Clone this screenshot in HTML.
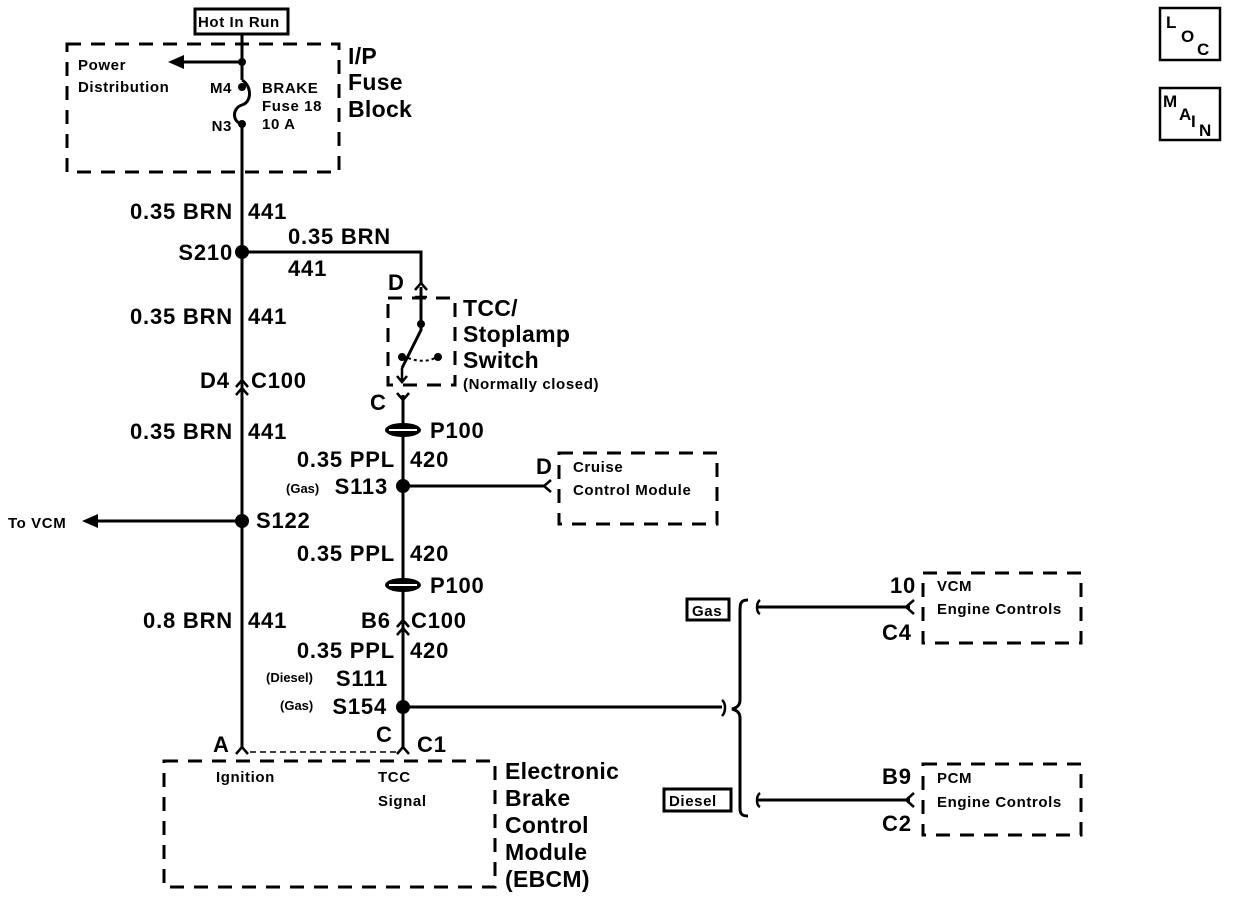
<!DOCTYPE html>
<html><head><style>
body{margin:0;background:#fff}
svg{display:block}
text{font-family:"Liberation Sans",Arial,sans-serif;fill:#000}
.b{font-size:22px;font-weight:bold;letter-spacing:0.8px}
.m{font-size:23px;font-weight:bold;letter-spacing:0.3px}
.s{font-size:15px;font-weight:bold;letter-spacing:0.6px}
.xs{font-size:13px;font-weight:bold}
.l{font-size:17px;font-weight:bold}
</style></head><body>
<svg width="1248" height="898" viewBox="0 0 1248 898" xmlns="http://www.w3.org/2000/svg">
<g fill="none" stroke="#000" stroke-width="3">
<rect x="67" y="44" width="272" height="128" stroke-dasharray="14,10"/>
<rect x="388" y="298" width="67" height="87" stroke-dasharray="14,10"/>
<rect x="559" y="453" width="158" height="71" stroke-dasharray="14,10"/>
<rect x="923" y="573" width="158" height="70" stroke-dasharray="14,10"/>
<rect x="923" y="764" width="158" height="71" stroke-dasharray="14,10"/>
<rect x="164" y="761" width="331" height="126" stroke-dasharray="14,10"/>
<rect x="195" y="9" width="93" height="25"/>
<rect x="687" y="599" width="42" height="21"/>
<rect x="664" y="789" width="67" height="22"/>
<rect x="1160" y="8" width="60" height="52" stroke-width="2.5"/>
<rect x="1160" y="88" width="60" height="52" stroke-width="2.5"/>
<path d="M242 35 V80"/>
<path d="M242 80 C252 86,252 102,242 105 C232 108,232 122,242 124"/>
<path d="M242 124 V748"/>
<path d="M242 62 H180"/>
<path d="M242 521 H95"/>
<path d="M242 252 H421 V283"/>
<path d="M421 287 V330 L402 368"/>
<path d="M403 395 V748"/>
<path d="M403 486 H545"/>
<path d="M403 707 H722"/>
<path d="M757 607 H910"/>
<path d="M757 800 H910"/>
<path d="M748 600 C740 600,740 604,740 612 V700 C740 706,736 708,732 709 C736 710,740 712,740 718 V808 C740 814,742 816,748 816"/>
<path d="M722 700 C726 703,726 712,722 716" stroke-width="2.5"/>
<path d="M760 600 C756 603,756 612,760 614" stroke-width="2.5"/>
<path d="M760 793 C756 796,756 805,760 807" stroke-width="2.5"/>
<path d="M914 600 L906 607 L914 614" stroke-width="2.5"/>
<path d="M914 793 L906 800 L914 807" stroke-width="2.5"/>
<path d="M551 480 L544 486 L551 492" stroke-width="2.5"/>
<path d="M236 387 L242 380 L248 387 M236 395 L242 388 L248 395" stroke-width="2.5"/>
<path d="M397 627 L403 620 L409 627 M397 635 L403 628 L409 635" stroke-width="2.5"/>
<path d="M415 290 L421 283 L427 290 M415 297 H427 M421 297 V304" stroke-width="2.5"/>
<path d="M397 393 L403 400 L409 393" stroke-width="2.5"/>
<path d="M236 754 L242 747 L248 754" stroke-width="2.5"/>
<path d="M397 754 L403 747 L409 754" stroke-width="2.5"/>
<path d="M402 368 V382 M397 376 L402 382 L407 376" stroke-width="2.5"/>
<path d="M408 358 Q425 364 437 357" stroke-width="2" stroke-dasharray="3,3"/>
<path d="M250 752 H396" stroke-width="1.5" stroke-dasharray="6,4"/>
</g>
<g fill="#000">
<polygon points="168,62 184,55 184,69"/>
<polygon points="82,521 98,514 98,528"/>
<circle cx="242" cy="62" r="4"/><circle cx="242" cy="87" r="4"/><circle cx="242" cy="124" r="4"/>
<circle cx="242" cy="252" r="7"/><circle cx="242" cy="521" r="7"/>
<circle cx="403" cy="486" r="7"/><circle cx="403" cy="707" r="7"/>
<circle cx="421" cy="324" r="4"/><circle cx="402" cy="357" r="4"/><circle cx="438" cy="357" r="4"/>
<ellipse cx="403" cy="430" rx="18" ry="7"/><ellipse cx="403" cy="585" rx="18" ry="7"/>
</g>
<g stroke="#fff" stroke-width="2"><path d="M389 430 H417 M389 585 H417"/></g>
<text class="s" x="198" y="27" letter-spacing="-0.3">Hot In Run</text>
<text class="s" x="78" y="70">Power</text>
<text class="s" x="78" y="92">Distribution</text>
<text class="s" x="232" y="93" text-anchor="end">M4</text>
<text class="s" x="232" y="131" text-anchor="end">N3</text>
<text class="s" x="262" y="93">BRAKE</text>
<text class="s" x="262" y="111">Fuse 18</text>
<text class="s" x="262" y="129">10 A</text>
<text class="m" x="348" y="64">I/P</text>
<text class="m" x="348" y="90">Fuse</text>
<text class="m" x="348" y="117">Block</text>
<text class="b" x="233" y="219" text-anchor="end">0.35 BRN</text><text class="b" x="248" y="219">441</text>
<text class="b" x="233" y="260" text-anchor="end">S210</text>
<text class="b" x="288" y="244">0.35 BRN</text><text class="b" x="288" y="276">441</text>
<text class="b" x="233" y="324" text-anchor="end">0.35 BRN</text><text class="b" x="248" y="324">441</text>
<text class="b" x="200" y="388">D4</text><text class="b" x="251" y="388">C100</text>
<text class="b" x="233" y="439" text-anchor="end">0.35 BRN</text><text class="b" x="248" y="439">441</text>
<text class="b" x="388" y="290">D</text>
<text class="m" x="463" y="316">TCC/</text>
<text class="m" x="463" y="342">Stoplamp</text>
<text class="m" x="463" y="368">Switch</text>
<text class="s" x="463" y="389" letter-spacing="0">(Normally closed)</text>
<text class="b" x="370" y="410">C</text>
<text class="b" x="430" y="438">P100</text>
<text class="b" x="395" y="467" text-anchor="end">0.35 PPL</text><text class="b" x="410" y="467">420</text>
<text class="xs" x="286" y="493">(Gas)</text><text class="b" x="388" y="494" text-anchor="end">S113</text>
<text class="b" x="536" y="474">D</text>
<text class="s" x="573" y="472">Cruise</text>
<text class="s" x="573" y="495">Control Module</text>
<text class="s" x="8" y="528">To VCM</text>
<text class="b" x="256" y="528">S122</text>
<text class="b" x="395" y="561" text-anchor="end">0.35 PPL</text><text class="b" x="410" y="561">420</text>
<text class="b" x="430" y="593">P100</text>
<text class="b" x="233" y="628" text-anchor="end">0.8 BRN</text><text class="b" x="248" y="628">441</text>
<text class="b" x="361" y="628">B6</text><text class="b" x="411" y="628">C100</text>
<text class="b" x="395" y="658" text-anchor="end">0.35 PPL</text><text class="b" x="410" y="658">420</text>
<text class="xs" x="266" y="682">(Diesel)</text><text class="b" x="388" y="686" text-anchor="end">S111</text>
<text class="xs" x="280" y="710">(Gas)</text><text class="b" x="387" y="714" text-anchor="end">S154</text>
<text class="b" x="213" y="752">A</text>
<text class="b" x="376" y="742">C</text><text class="b" x="417" y="752">C1</text>
<text class="s" x="216" y="782">Ignition</text>
<text class="s" x="378" y="782">TCC</text><text class="s" x="378" y="806">Signal</text>
<text class="m" x="505" y="779">Electronic</text>
<text class="m" x="505" y="806">Brake</text>
<text class="m" x="505" y="833">Control</text>
<text class="m" x="505" y="860">Module</text>
<text class="m" x="505" y="887">(EBCM)</text>
<text class="s" x="692" y="616" letter-spacing="0">Gas</text>
<text class="s" x="669" y="806" letter-spacing="0">Diesel</text>
<text class="b" x="890" y="593">10</text><text class="b" x="882" y="640">C4</text>
<text class="s" x="937" y="591">VCM</text><text class="s" x="937" y="614">Engine Controls</text>
<text class="b" x="882" y="784">B9</text><text class="b" x="882" y="831">C2</text>
<text class="s" x="937" y="783">PCM</text><text class="s" x="937" y="807">Engine Controls</text>
<text class="l" x="1166" y="28">L</text><text class="l" x="1181" y="42">O</text><text class="l" x="1197" y="55">C</text>
<text class="l" x="1163" y="107">M</text><text class="l" x="1179" y="120">A</text><text class="l" x="1191" y="127">I</text><text class="l" x="1199" y="136">N</text>
</svg>
</body></html>
